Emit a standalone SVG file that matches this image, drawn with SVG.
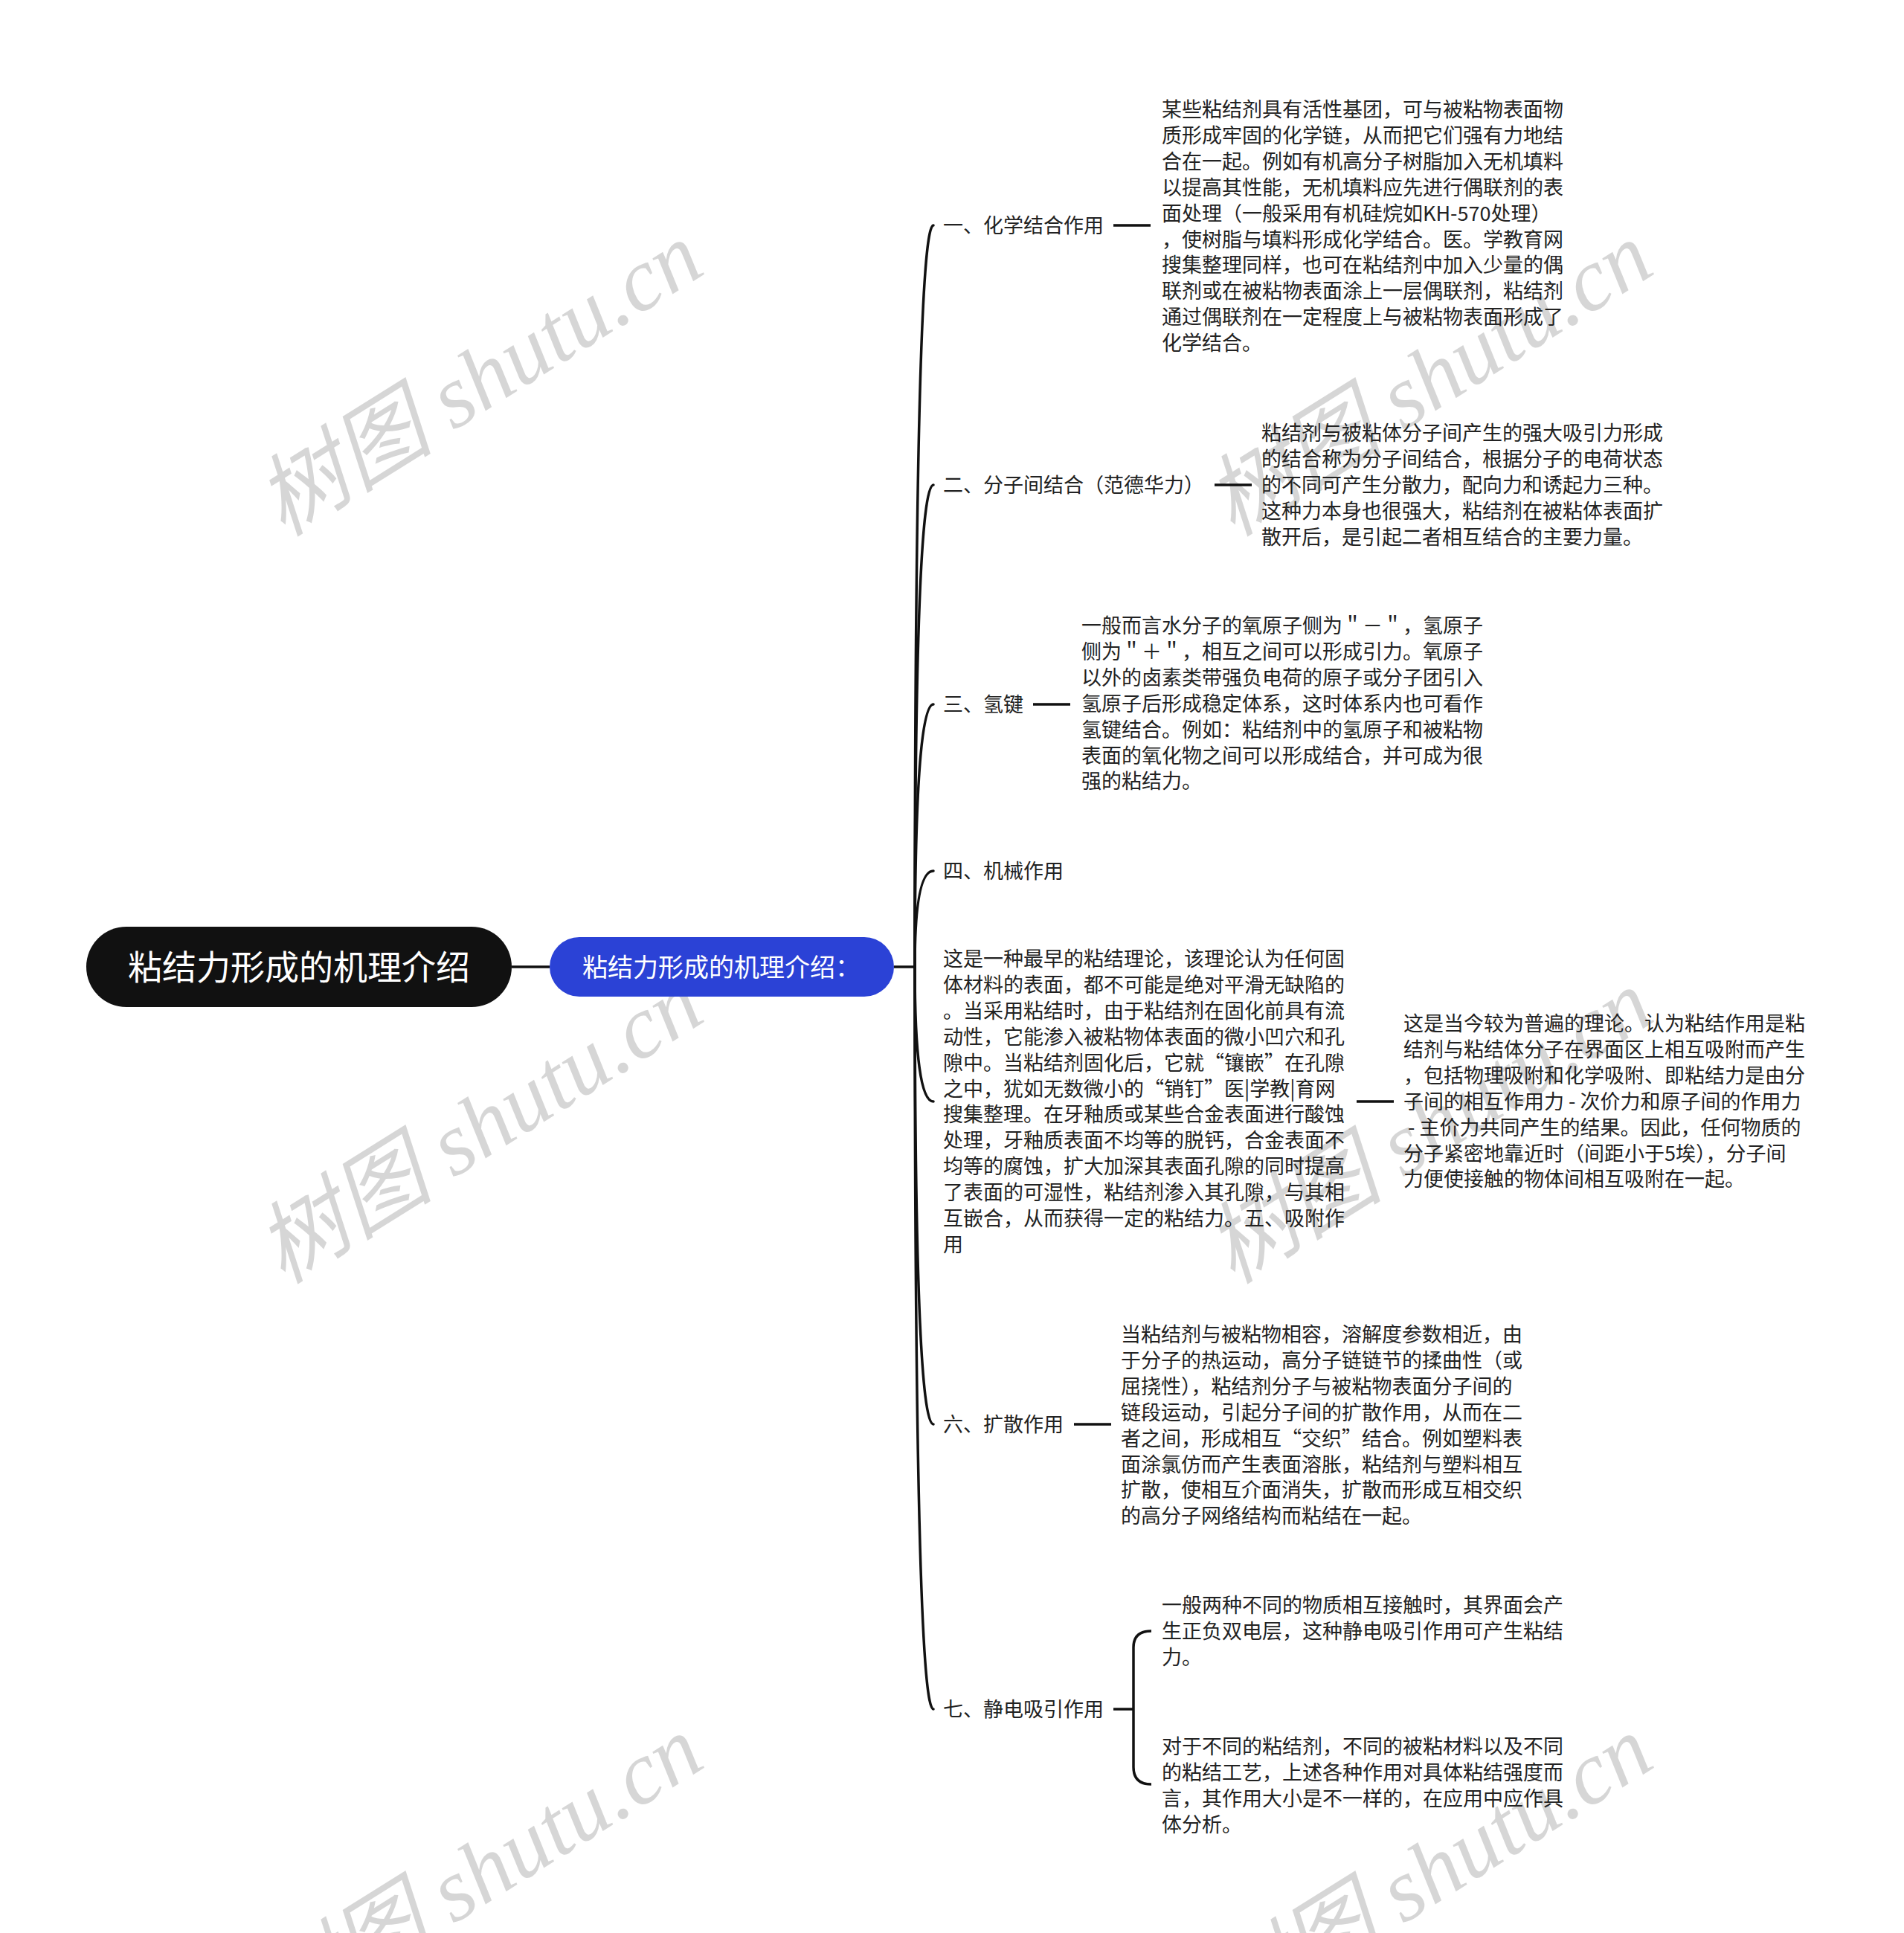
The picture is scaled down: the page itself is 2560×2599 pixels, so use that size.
<svg xmlns="http://www.w3.org/2000/svg" width="2560" height="2599" viewBox="0 0 2560 2599">
<style>
.wm{font-family:"Liberation Serif","Noto Sans CJK SC",serif;font-style:italic;font-size:120px;fill:#000;fill-opacity:0.16;text-anchor:middle}
.t{font-family:"Noto Sans CJK SC","Noto Sans",sans-serif;font-size:27px;fill:#222}
.br{fill:none;stroke:#111;stroke-width:3.5;stroke-linecap:round}
.ln{fill:none;stroke:#111;stroke-width:3.5}
</style>
<rect width="2560" height="2599" fill="#fff"/>
<g id="watermarks">
<text class="wm" transform="translate(646,512) rotate(-32)" y="38">树图 shutu.cn</text>
<text class="wm" transform="translate(646,1517) rotate(-32)" y="38">树图 shutu.cn</text>
<text class="wm" transform="translate(646,2520) rotate(-32)" y="38">树图 shutu.cn</text>
<text class="wm" transform="translate(1923,512) rotate(-32)" y="38">树图 shutu.cn</text>
<text class="wm" transform="translate(1923,1517) rotate(-32)" y="38">树图 shutu.cn</text>
<text class="wm" transform="translate(1923,2520) rotate(-32)" y="38">树图 shutu.cn</text>
</g>
<g id="connectors">
<line class="ln" x1="688" y1="1300" x2="739" y2="1300"/>
<line class="ln" x1="1202" y1="1300" x2="1231" y2="1300"/>
<path class="br" d="M1230 1300 Q1230 303 1255 303"/>
<path class="br" d="M1230 1300 Q1230 652 1255 652"/>
<path class="br" d="M1230 1300 Q1230 947 1255 947"/>
<path class="br" d="M1230 1300 Q1230 1171 1255 1171"/>
<path class="br" d="M1230 1300 Q1230 1481 1255 1481"/>
<path class="br" d="M1230 1300 Q1230 1915 1255 1915"/>
<path class="br" d="M1230 1300 Q1230 2298 1255 2298"/>
<line class="ln" x1="1497" y1="303" x2="1547" y2="303"/>
<line class="ln" x1="1633" y1="652" x2="1683" y2="652"/>
<line class="ln" x1="1389" y1="947" x2="1439" y2="947"/>
<line class="ln" x1="1824" y1="1481" x2="1874" y2="1481"/>
<line class="ln" x1="1444" y1="1915" x2="1494" y2="1915"/>
<line class="ln" x1="1497" y1="2298" x2="1524" y2="2298"/>
<path class="ln" d="M1548 2193 Q1524 2193 1524 2215 L1524 2376 Q1524 2399 1548 2399"/>
</g>
<g id="root">
<rect x="116" y="1246" width="572" height="108" rx="54" fill="#111"/>
<text x="402" y="1317" text-anchor="middle" style="font-family:'Noto Sans CJK SC',sans-serif;font-size:46px;fill:#fff">粘结力形成的机理介绍</text>
</g>
<g id="main">
<rect x="739" y="1260" width="463" height="80" rx="40" fill="#2b42d6"/>
<text x="970" y="1313" text-anchor="middle" style="font-family:'Noto Sans CJK SC',sans-serif;font-size:34px;fill:#fff">粘结力形成的机理介绍：</text>
</g>
<g id="b1">
<text class="t" x="1268" y="313">一、化学结合作用</text>
</g>
<g id="b1c">
<text class="t" y="157"><tspan x="1562">某些粘结剂具有活性基团，可与被粘物表面物</tspan><tspan x="1562" dy="34.9">质形成牢固的化学链，从而把它们强有力地结</tspan><tspan x="1562" dy="34.9">合在一起。例如有机高分子树脂加入无机填料</tspan><tspan x="1562" dy="34.9">以提高其性能，无机填料应先进行偶联剂的表</tspan><tspan x="1562" dy="34.9">面处理（一般采用有机硅烷如KH-570处理）</tspan><tspan x="1562" dy="34.9">，使树脂与填料形成化学结合。医。学教育网</tspan><tspan x="1562" dy="34.9">搜集整理同样，也可在粘结剂中加入少量的偶</tspan><tspan x="1562" dy="34.9">联剂或在被粘物表面涂上一层偶联剂，粘结剂</tspan><tspan x="1562" dy="34.9">通过偶联剂在一定程度上与被粘物表面形成了</tspan><tspan x="1562" dy="34.9">化学结合。</tspan></text>
</g>
<g id="b2">
<text class="t" x="1268" y="662">二、分子间结合（范德华力）</text>
</g>
<g id="b2c">
<text class="t" y="592"><tspan x="1696">粘结剂与被粘体分子间产生的强大吸引力形成</tspan><tspan x="1696" dy="34.9">的结合称为分子间结合，根据分子的电荷状态</tspan><tspan x="1696" dy="34.9">的不同可产生分散力，配向力和诱起力三种。</tspan><tspan x="1696" dy="34.9">这种力本身也很强大，粘结剂在被粘体表面扩</tspan><tspan x="1696" dy="34.9">散开后，是引起二者相互结合的主要力量。</tspan></text>
</g>
<g id="b3">
<text class="t" x="1268" y="957">三、氢键</text>
</g>
<g id="b3c">
<text class="t" y="851"><tspan x="1454">一般而言水分子的氧原子侧为＂－＂，氢原子</tspan><tspan x="1454" dy="34.9">侧为＂＋＂，相互之间可以形成引力。氧原子</tspan><tspan x="1454" dy="34.9">以外的卤素类带强负电荷的原子或分子团引入</tspan><tspan x="1454" dy="34.9">氢原子后形成稳定体系，这时体系内也可看作</tspan><tspan x="1454" dy="34.9">氢键结合。例如：粘结剂中的氢原子和被粘物</tspan><tspan x="1454" dy="34.9">表面的氧化物之间可以形成结合，并可成为很</tspan><tspan x="1454" dy="34.9">强的粘结力。</tspan></text>
</g>
<g id="b4">
<text class="t" x="1268" y="1181">四、机械作用</text>
</g>
<g id="b5">
<text class="t" y="1299"><tspan x="1268">这是一种最早的粘结理论，该理论认为任何固</tspan><tspan x="1268" dy="34.9">体材料的表面，都不可能是绝对平滑无缺陷的</tspan><tspan x="1268" dy="34.9">。当采用粘结时，由于粘结剂在固化前具有流</tspan><tspan x="1268" dy="34.9">动性，它能渗入被粘物体表面的微小凹穴和孔</tspan><tspan x="1268" dy="34.9">隙中。当粘结剂固化后，它就“镶嵌”在孔隙</tspan><tspan x="1268" dy="34.9">之中，犹如无数微小的“销钉”医|学教|育网</tspan><tspan x="1268" dy="34.9">搜集整理。在牙釉质或某些合金表面进行酸蚀</tspan><tspan x="1268" dy="34.9">处理，牙釉质表面不均等的脱钙，合金表面不</tspan><tspan x="1268" dy="34.9">均等的腐蚀，扩大加深其表面孔隙的同时提高</tspan><tspan x="1268" dy="34.9">了表面的可湿性，粘结剂渗入其孔隙，与其相</tspan><tspan x="1268" dy="34.9">互嵌合，从而获得一定的粘结力。五、吸附作</tspan><tspan x="1268" dy="34.9">用</tspan></text>
</g>
<g id="b5c">
<text class="t" y="1386" xml:space="preserve"><tspan x="1887">这是当今较为普遍的理论。认为粘结作用是粘</tspan><tspan x="1887" dy="34.9">结剂与粘结体分子在界面区上相互吸附而产生</tspan><tspan x="1887" dy="34.9">，包括物理吸附和化学吸附、即粘结力是由分</tspan><tspan x="1887" dy="34.9">子间的相互作用力 - 次价力和原子间的作用力</tspan><tspan x="1887" dy="34.9"> - 主价力共同产生的结果。因此，任何物质的</tspan><tspan x="1887" dy="34.9">分子紧密地靠近时（间距小于5埃），分子间</tspan><tspan x="1887" dy="34.9">力便使接触的物体间相互吸附在一起。</tspan></text>
</g>
<g id="b6">
<text class="t" x="1268" y="1925">六、扩散作用</text>
</g>
<g id="b6c">
<text class="t" y="1804"><tspan x="1507">当粘结剂与被粘物相容，溶解度参数相近，由</tspan><tspan x="1507" dy="34.9">于分子的热运动，高分子链链节的揉曲性（或</tspan><tspan x="1507" dy="34.9">屈挠性），粘结剂分子与被粘物表面分子间的</tspan><tspan x="1507" dy="34.9">链段运动，引起分子间的扩散作用，从而在二</tspan><tspan x="1507" dy="34.9">者之间，形成相互“交织”结合。例如塑料表</tspan><tspan x="1507" dy="34.9">面涂氯仿而产生表面溶胀，粘结剂与塑料相互</tspan><tspan x="1507" dy="34.9">扩散，使相互介面消失，扩散而形成互相交织</tspan><tspan x="1507" dy="34.9">的高分子网络结构而粘结在一起。</tspan></text>
</g>
<g id="b7">
<text class="t" x="1268" y="2308">七、静电吸引作用</text>
</g>
<g id="b7c1">
<text class="t" y="2168"><tspan x="1562">一般两种不同的物质相互接触时，其界面会产</tspan><tspan x="1562" dy="34.9">生正负双电层，这种静电吸引作用可产生粘结</tspan><tspan x="1562" dy="34.9">力。</tspan></text>
</g>
<g id="b7c2">
<text class="t" y="2358"><tspan x="1562">对于不同的粘结剂，不同的被粘材料以及不同</tspan><tspan x="1562" dy="34.9">的粘结工艺，上述各种作用对具体粘结强度而</tspan><tspan x="1562" dy="34.9">言，其作用大小是不一样的，在应用中应作具</tspan><tspan x="1562" dy="34.9">体分析。</tspan></text>
</g>
</svg>
